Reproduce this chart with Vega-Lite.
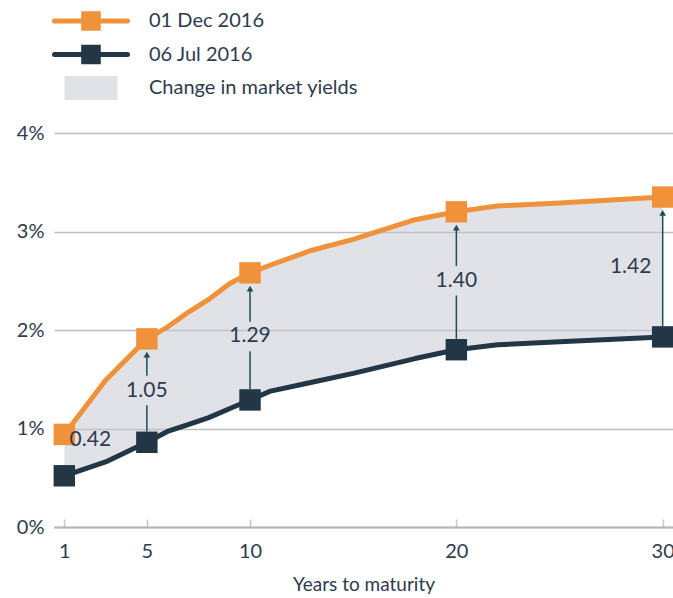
{
  "$schema": "https://vega.github.io/schema/vega-lite/v6.json",
  "width": 619,
  "height": 394,
  "autosize": {"type": "none"},
  "padding": {"left": 54, "top": 133, "right": 0, "bottom": 71},
  "background": "white",
  "config": {
    "view": {"stroke": null},
    "font": "Lato",
    "axis": {"labelFont": "Lato", "titleFont": "Lato", "labelColor": "#2e3b4e", "titleColor": "#2e3b4e"},
    "legend": {
      "orient": "none",
      "legendX": -2,
      "legendY": -124,
      "title": null,
      "labelFont": "Lato",
      "labelFontSize": 20,
      "labelColor": "#2e3b4e",
      "labelLimit": 400,
      "symbolSize": 5329,
      "symbolStrokeWidth": 5,
      "clipHeight": 24,
      "rowPadding": 9.5,
      "labelOffset": 19
    }
  },
  "datasets": {
    "curve": [
      {"year": 1, "dec": 0.94, "jul": 0.52, "change": 0.42},
      {"year": 3, "dec": 1.49, "jul": 0.66},
      {"year": 5, "dec": 1.91, "jul": 0.86, "change": 1.05},
      {"year": 6, "dec": 2.03, "jul": 0.97},
      {"year": 7, "dec": 2.18, "jul": 1.04},
      {"year": 8, "dec": 2.31, "jul": 1.11},
      {"year": 9, "dec": 2.47, "jul": 1.2},
      {"year": 10, "dec": 2.58, "jul": 1.29, "change": 1.29},
      {"year": 11, "dec": 2.66, "jul": 1.38},
      {"year": 13, "dec": 2.81, "jul": 1.47},
      {"year": 15, "dec": 2.92, "jul": 1.56},
      {"year": 18, "dec": 3.12, "jul": 1.71},
      {"year": 20, "dec": 3.2, "jul": 1.8, "change": 1.4},
      {"year": 22, "dec": 3.26, "jul": 1.85},
      {"year": 25, "dec": 3.29, "jul": 1.88},
      {"year": 30, "dec": 3.35, "jul": 1.93, "change": 1.42}
    ]
  },
  "data": {"name": "curve"},
  "encoding": {
    "x": {
      "field": "year",
      "type": "quantitative",
      "scale": {"domain": [0.5, 30.5], "nice": false, "zero": false},
      "axis": {
        "title": "Years to maturity",
        "titleFontSize": 19,
        "titleFontWeight": "normal",
        "titlePadding": 14,
        "values": [1, 5, 10, 20, 30],
        "grid": false,
        "domainColor": "#b5b5b5",
        "domainWidth": 2,
        "tickColor": "#c4c4c4",
        "tickWidth": 1.5,
        "tickSize": -8,
        "labelFontSize": 20,
        "labelPadding": 22
      }
    }
  },
  "layer": [
    {
      "mark": {"type": "area", "color": "#c4c6d0", "opacity": 0.5},
      "encoding": {
        "y": {
          "field": "jul",
          "type": "quantitative",
          "scale": {"domain": [0, 4], "nice": false},
          "axis": {
            "title": null,
            "values": [0, 1, 2, 3, 4],
            "labelExpr": "datum.value + '%'",
            "labelFontSize": 20,
            "labelPadding": 10,
            "ticks": false,
            "domain": false,
            "gridColor": "#bdbdbd",
            "gridWidth": 1.5
          }
        },
        "y2": {"field": "dec"}
      }
    },
    {
      "transform": [
        {"fold": ["dec", "jul"], "as": ["k", "value"]},
        {"calculate": "datum.k === 'dec' ? '01 Dec 2016' : '06 Jul 2016'", "as": "series"}
      ],
      "mark": {"type": "line", "strokeWidth": 5, "strokeJoin": "round", "strokeCap": "round"},
      "encoding": {
        "y": {"field": "value", "type": "quantitative"},
        "color": {
          "field": "series",
          "type": "nominal",
          "scale": {"domain": ["01 Dec 2016", "06 Jul 2016", "Change in market yields"], "range": ["#f0923a", "#233646", "#e1e2e8"]},
          "legend": {
            "symbolSize": 5329,
            "symbolStrokeWidth": 5,
            "labelLimit": 400,
            "encode": {
              "symbols": {
                "update": {
                  "shape": {"signal": "datum.value === 'Change in market yields' ? 'M-0.66,-0.27H0.66V0.27H-0.66Z' : 'M-1,0H1M-0.2,-0.2H0.2V0.2H-0.2Z'"},
                  "size": {"value": 5329},
                  "fill": {"scale": "color", "field": "value"},
                  "stroke": {"signal": "datum.value === 'Change in market yields' ? 'transparent' : scale('color', datum.value)"},
                  "strokeWidth": {"value": 5},
                  "strokeCap": {"value": "round"},
                  "opacity": {"value": 1}
                }
              }
            }
          }
        }
      }
    },
    {
      "transform": [
        {"filter": "datum.change != null && datum.year > 1"},
        {"calculate": "(datum.jul + datum.dec) / 2", "as": "mid"},
        {"calculate": "datum.jul + 0.11", "as": "lo"},
        {"calculate": "datum.year === 30 ? datum.dec - 0.17 : datum.mid - 0.15", "as": "hi"}
      ],
      "mark": {"type": "rule", "color": "#1b4f55", "strokeWidth": 1.5},
      "encoding": {
        "y": {"field": "lo", "type": "quantitative"},
        "y2": {"field": "hi"}
      }
    },
    {
      "transform": [
        {"filter": "datum.change != null && datum.year > 1 && datum.year < 30"},
        {"calculate": "(datum.jul + datum.dec) / 2 + 0.15", "as": "lo"},
        {"calculate": "datum.dec - 0.17", "as": "hi"}
      ],
      "mark": {"type": "rule", "color": "#1b4f55", "strokeWidth": 1.5},
      "encoding": {
        "y": {"field": "lo", "type": "quantitative"},
        "y2": {"field": "hi"}
      }
    },
    {
      "transform": [
        {"filter": "datum.change != null && datum.year > 1"},
        {"calculate": "datum.dec - 0.16", "as": "tip"}
      ],
      "mark": {"type": "point", "shape": "triangle-up", "filled": true, "color": "#1b4f55", "size": 45, "opacity": 1},
      "encoding": {
        "y": {"field": "tip", "type": "quantitative"}
      }
    },
    {
      "transform": [
        {"filter": "datum.change != null"},
        {"fold": ["dec", "jul"], "as": ["k", "value"]},
        {"calculate": "datum.k === 'dec' ? '01 Dec 2016' : '06 Jul 2016'", "as": "series"}
      ],
      "mark": {"type": "point", "shape": "square", "filled": true, "size": 460, "opacity": 1},
      "encoding": {
        "y": {"field": "value", "type": "quantitative"},
        "color": {"field": "series", "type": "nominal"}
      }
    },
    {
      "transform": [
        {"filter": "datum.change != null && datum.year > 1 && datum.year < 30"},
        {"calculate": "(datum.jul + datum.dec) / 2", "as": "mid"}
      ],
      "mark": {"type": "text", "fontSize": 21, "color": "#2e3b4e", "baseline": "middle", "align": "center"},
      "encoding": {
        "y": {"field": "mid", "type": "quantitative"},
        "text": {"field": "change", "type": "quantitative", "format": ".2f"}
      }
    },
    {
      "transform": [
        {"filter": "datum.year === 30"},
        {"calculate": "(datum.jul + datum.dec) / 2", "as": "mid"}
      ],
      "mark": {"type": "text", "fontSize": 21, "color": "#2e3b4e", "baseline": "middle", "align": "center", "dx": -32},
      "encoding": {
        "y": {"field": "mid", "type": "quantitative"},
        "text": {"field": "change", "type": "quantitative", "format": ".2f"}
      }
    },
    {
      "transform": [{"filter": "datum.year === 1"}],
      "mark": {"type": "text", "fontSize": 21, "color": "#2e3b4e", "baseline": "middle", "align": "center", "dx": 26, "dy": 6},
      "encoding": {
        "y": {"field": "dec", "type": "quantitative"},
        "text": {"field": "change", "type": "quantitative", "format": ".2f"}
      }
    }
  ]
}
